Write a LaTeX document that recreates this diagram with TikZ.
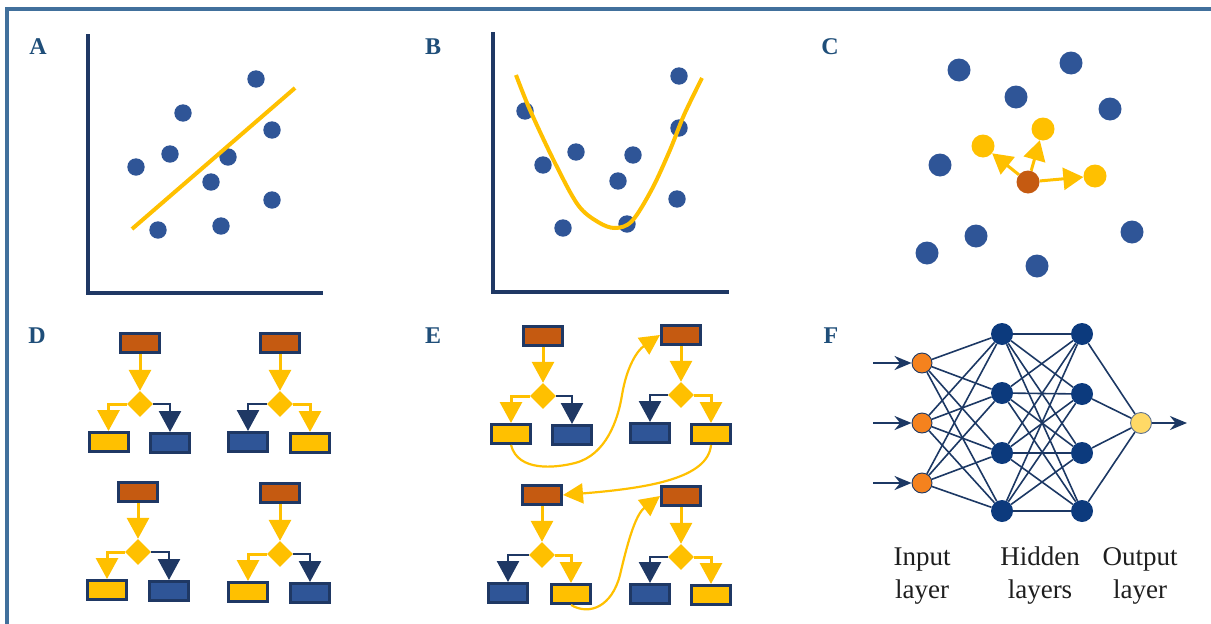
\documentclass[tikz,border=0pt]{standalone}
\usepackage{fontspec}
\setmainfont{Liberation Serif}
\usetikzlibrary{arrows.meta,shapes.geometric}

\definecolor{frameblue}{RGB}{65,112,156}
\definecolor{navy}{RGB}{31,56,100}
\definecolor{dotblue}{RGB}{47,85,151}
\definecolor{gold}{RGB}{255,192,0}
\definecolor{rust}{RGB}{197,90,17}
\definecolor{lblblue}{RGB}{31,78,121}
\definecolor{nnblue}{RGB}{12,58,125}
\definecolor{nnedge}{RGB}{28,56,100}
\definecolor{inorange}{RGB}{245,130,30}
\definecolor{outyellow}{RGB}{255,217,102}
\definecolor{txtdark}{RGB}{30,30,30}

\newcommand\flowtree[7]{%
  \node[rectt] (#1t) at (#2) {};
  \node[dia] (#1d) at (#3) {};
  \node[rect#6] (#1l) at (#4) {};
  \node[rect#7] (#1r) at (#5) {};
  \draw[arry] (#1t) -- (#1d);
  \draw[arr#6] (#1d.west) -| (#1l.north);
  \draw[arr#7] (#1d.east) -| (#1r.north);
}

\begin{document}
\begin{tikzpicture}[x=1pt,y=-1pt,
  panellabel/.style={font=\fontsize{24}{24}\selectfont\bfseries, text=lblblue, inner sep=0},
  axis/.style={navy, line width=4pt},
  fitline/.style={gold, line width=4pt},
  cdot/.style={circle, minimum size=23pt, inner sep=0, fill=dotblue},
  ydot/.style={cdot, fill=gold},
  odot/.style={cdot, fill=rust},
  carrow/.style={gold, line width=3pt, -{Triangle[width=22pt,length=20pt]}},
  boxshape/.style={rectangle, draw=navy, line width=3pt, minimum width=39pt, minimum height=19pt, inner sep=0},
  recty/.style={boxshape, fill=gold},
  rectn/.style={boxshape, fill=dotblue},
  rectt/.style={boxshape, fill=rust},
  dia/.style={diamond, fill=gold, minimum width=26pt, minimum height=26pt, inner sep=0},
  arry/.style={gold, line width=3pt, -{Triangle[width=22pt,length=21pt]}},
  arrn/.style={navy, line width=2.5pt, -{Triangle[width=22pt,length=21pt]}},
  looparrow/.style={gold, line width=2.2pt, -{Triangle[width=20pt,length=20pt]}},
  inneuron/.style={circle, minimum size=20pt, inner sep=0, fill=inorange, draw=nnedge, line width=0.9pt},
  hidneuron/.style={circle, minimum size=22pt, inner sep=0, fill=nnblue},
  outneuron/.style={circle, minimum size=21pt, inner sep=0, fill=outyellow, draw=nnedge!70, line width=0.9pt},
  nnline/.style={nnedge, line width=1.6pt},
  nnarrow/.style={nnedge, line width=2.2pt, -{Stealth[length=17pt,width=14pt]}},
  layertext/.style={font=\fontsize{27}{33}\selectfont, text=txtdark, inner sep=0, anchor=base}
]
\useasboundingbox (0,0) rectangle (1211,624);

% frame
\draw[frameblue, line width=4pt] (7,624) -- (7,9) -- (1211,9);

% labels
\node[panellabel] (lA) at (38,47) {A};
\node[panellabel] (lB) at (433,47) {B};
\node[panellabel] (lC) at (830,47) {C};
\node[panellabel] (lD) at (37,336) {D};
\node[panellabel] (lE) at (433,336) {E};
\node[panellabel] (lF) at (831,336) {F};

% ---------- Panel A
\draw[axis] (88,34) -- (88,293) -- (323,293);
\foreach \p in {(136,167),(170,154),(183,113),(256,79),(272,130),(228,157),(211,182),(272,200),(221,226),(158,230)}
  \fill[dotblue] \p circle (8.7);
\draw[fitline] (132,229) -- (295,88);

% ---------- Panel B
\draw[axis] (493,32) -- (493,292) -- (729,292);
\foreach \p in {(525,111),(543,165),(576,152),(563,228),(618,181),(633,155),(627,224),(679,76),(679,128),(677,199)}
  \fill[dotblue] \p circle (8.7);
\draw[fitline] plot[smooth, tension=0.55] coordinates {(516,75) (530,110) (555,163) (578,205) (598,222) (615,228) (632,221) (652,189) (670,150) (684,115) (702,78)};

% ---------- Panel C
\node[cdot] (c1) at (959,70) {};
\node[cdot] (c2) at (1071,63) {};
\node[cdot] (c3) at (1016,97) {};
\node[cdot] (c4) at (1110,109) {};
\node[cdot] (c5) at (940,165) {};
\node[cdot] (c6) at (976,236) {};
\node[cdot] (c7) at (927,253) {};
\node[cdot] (c8) at (1037,266) {};
\node[cdot] (c9) at (1132,232) {};
\node[ydot] (cy1) at (983,146) {};
\node[ydot] (cy2) at (1043,129) {};
\node[ydot] (cy3) at (1095,176) {};
\node[odot] (co) at (1028,182) {};
\draw[carrow] (co) -- (cy1);
\draw[carrow] (co) -- (cy2);
\draw[carrow] (co) -- (cy3);

% ---------- Panel D
\flowtree{da}{140,343}{140,404}{108.5,442}{170,443}{y}{n}
\flowtree{db}{280,343}{280,404}{248,442}{310,443}{n}{y}
\flowtree{dc}{138,492}{138,552}{107,590}{169,591}{y}{n}
\flowtree{dd}{280,493}{280,554}{248,592}{310,593}{y}{n}

% ---------- Panel E
\flowtree{ea}{543,336}{543,396}{511,434}{572,435}{y}{n}
\flowtree{eb}{681,335}{681,395}{650,433}{711,434}{n}{y}
\flowtree{ec}{542,495}{542,555}{508,593}{571,594}{n}{y}
\flowtree{ed}{681,496}{681,557}{650,594}{711,595}{n}{y}
\draw[looparrow] (eal.south) .. controls (518,472) and (555,468) .. (575,463)
  .. controls (606,455) and (618,420) .. (622,395)
  .. controls (627,365) and (638,350) .. (ebt.west);
\draw[looparrow] (ebr.south) .. controls (708,478) and (650,488) .. (ect.east);
\draw[looparrow] (ecr.south) .. controls (590,616) and (612,606) .. (620,575)
  .. controls (627,545) and (635,515) .. (edt.west);

% ---------- Panel F
\node[inneuron] (i1) at (922,363) {};
\node[inneuron] (i2) at (922,423) {};
\node[inneuron] (i3) at (922,483) {};
\node[hidneuron] (h1) at (1002,334) {};
\node[hidneuron] (h2) at (1002,393) {};
\node[hidneuron] (h3) at (1002,453) {};
\node[hidneuron] (h4) at (1002,511) {};
\node[hidneuron] (g1) at (1082,334) {};
\node[hidneuron] (g2) at (1082,394) {};
\node[hidneuron] (g3) at (1082,453) {};
\node[hidneuron] (g4) at (1082,511) {};
\node[outneuron] (out) at (1141,423) {};
\foreach \i in {1,2,3} \foreach \j in {1,2,3,4} \draw[nnline] (i\i) -- (h\j);
\foreach \i in {1,2,3,4} \foreach \j in {1,2,3,4} \draw[nnline] (h\i) -- (g\j);
\foreach \i in {1,2,3,4} \draw[nnline] (g\i) -- (out);
\coordinate (a1) at (873,363);
\coordinate (a2) at (873,423);
\coordinate (a3) at (873,483);
\coordinate (aout) at (1187,423);
\draw[nnarrow] (a1) -- (i1);
\draw[nnarrow] (a2) -- (i2);
\draw[nnarrow] (a3) -- (i3);
\draw[nnarrow] (out) -- (aout);

\node[layertext] (t1a) at (922,565) {Input};
\node[layertext] (t1b) at (922,598) {layer};
\node[layertext] (t2a) at (1040,565) {Hidden};
\node[layertext] (t2b) at (1040,598) {layers};
\node[layertext] (t3a) at (1140,565) {Output};
\node[layertext] (t3b) at (1140,598) {layer};
\end{tikzpicture}
\end{document}
